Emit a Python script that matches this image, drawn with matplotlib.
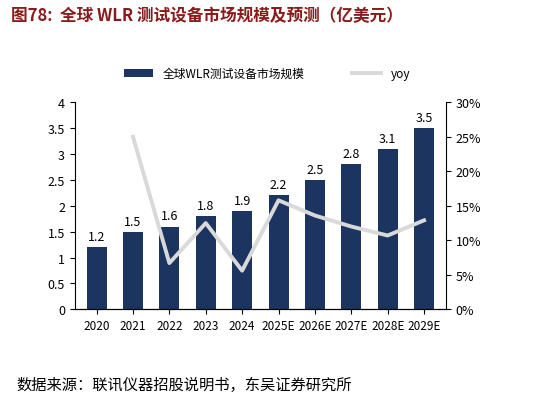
import matplotlib.pyplot as plt
from matplotlib.ticker import FuncFormatter

plt.rcParams['font.family'] = ['Noto Sans CJK SC', 'DejaVu Sans']

years = ["2020", "2021", "2022", "2023", "2024", "2025E", "2026E", "2027E", "2028E", "2029E"]
market = [1.2, 1.5, 1.6, 1.8, 1.9, 2.2, 2.5, 2.8, 3.1, 3.5]
yoy = [None, 0.25, 0.067, 0.125, 0.056, 0.158, 0.136, 0.12, 0.107, 0.129]

fig = plt.figure(figsize=(5.34, 4.02), dpi=100)
ax = fig.add_axes([0.14, 0.228, 0.695, 0.515])
x = list(range(len(years)))
ax.bar(x, market, width=0.55, color="#1b3560", label="全球WLR测试设备市场规模")
for xi, v in zip(x, market):
    ax.text(xi, v + 0.08, f"{v:.1f}", ha="center", va="bottom", fontsize=9)
ax.set_ylim(0, 4)
ax.set_xlim(-0.6, 9.6)
ax.set_xticks(x)
ax.set_xticklabels(years, fontsize=8.5)
ax.set_yticks([0, 0.5, 1, 1.5, 2, 2.5, 3, 3.5, 4])
ax.set_yticklabels(["0", "0.5", "1", "1.5", "2", "2.5", "3", "3.5", "4"], fontsize=9)
for s in ["top", "right"]:
    ax.spines[s].set_visible(False)

ax2 = ax.twinx()
ax2.plot(x[1:], yoy[1:], color="#d9d9d9", lw=2.8, label="yoy")
ax2.set_ylim(0, 0.30)
ax2.set_yticks([0, 0.05, 0.10, 0.15, 0.20, 0.25, 0.30])
ax2.yaxis.set_major_formatter(FuncFormatter(lambda v, p: f"{v*100:.0f}%"))
ax2.tick_params(labelsize=9)
for s in ["top", "left"]:
    ax2.spines[s].set_visible(False)

h1, l1 = ax.get_legend_handles_labels()
h2, l2 = ax2.get_legend_handles_labels()
fig.legend(h1 + h2, l1 + l2, loc="center", bbox_to_anchor=(0.5, 0.815), ncol=2,
           frameon=False, fontsize=8.5, columnspacing=4, handlelength=2.5)

fig.text(0.02, 0.96, "图78:  全球 WLR 测试设备市场规模及预测（亿美元）", fontsize=12,
         fontweight="bold", color="#8b1a1a", va="center")
fig.text(0.03, 0.04, "数据来源：联讯仪器招股说明书，东吴证券研究所", fontsize=11, va="center")

fig.savefig("out.png", dpi=100)
